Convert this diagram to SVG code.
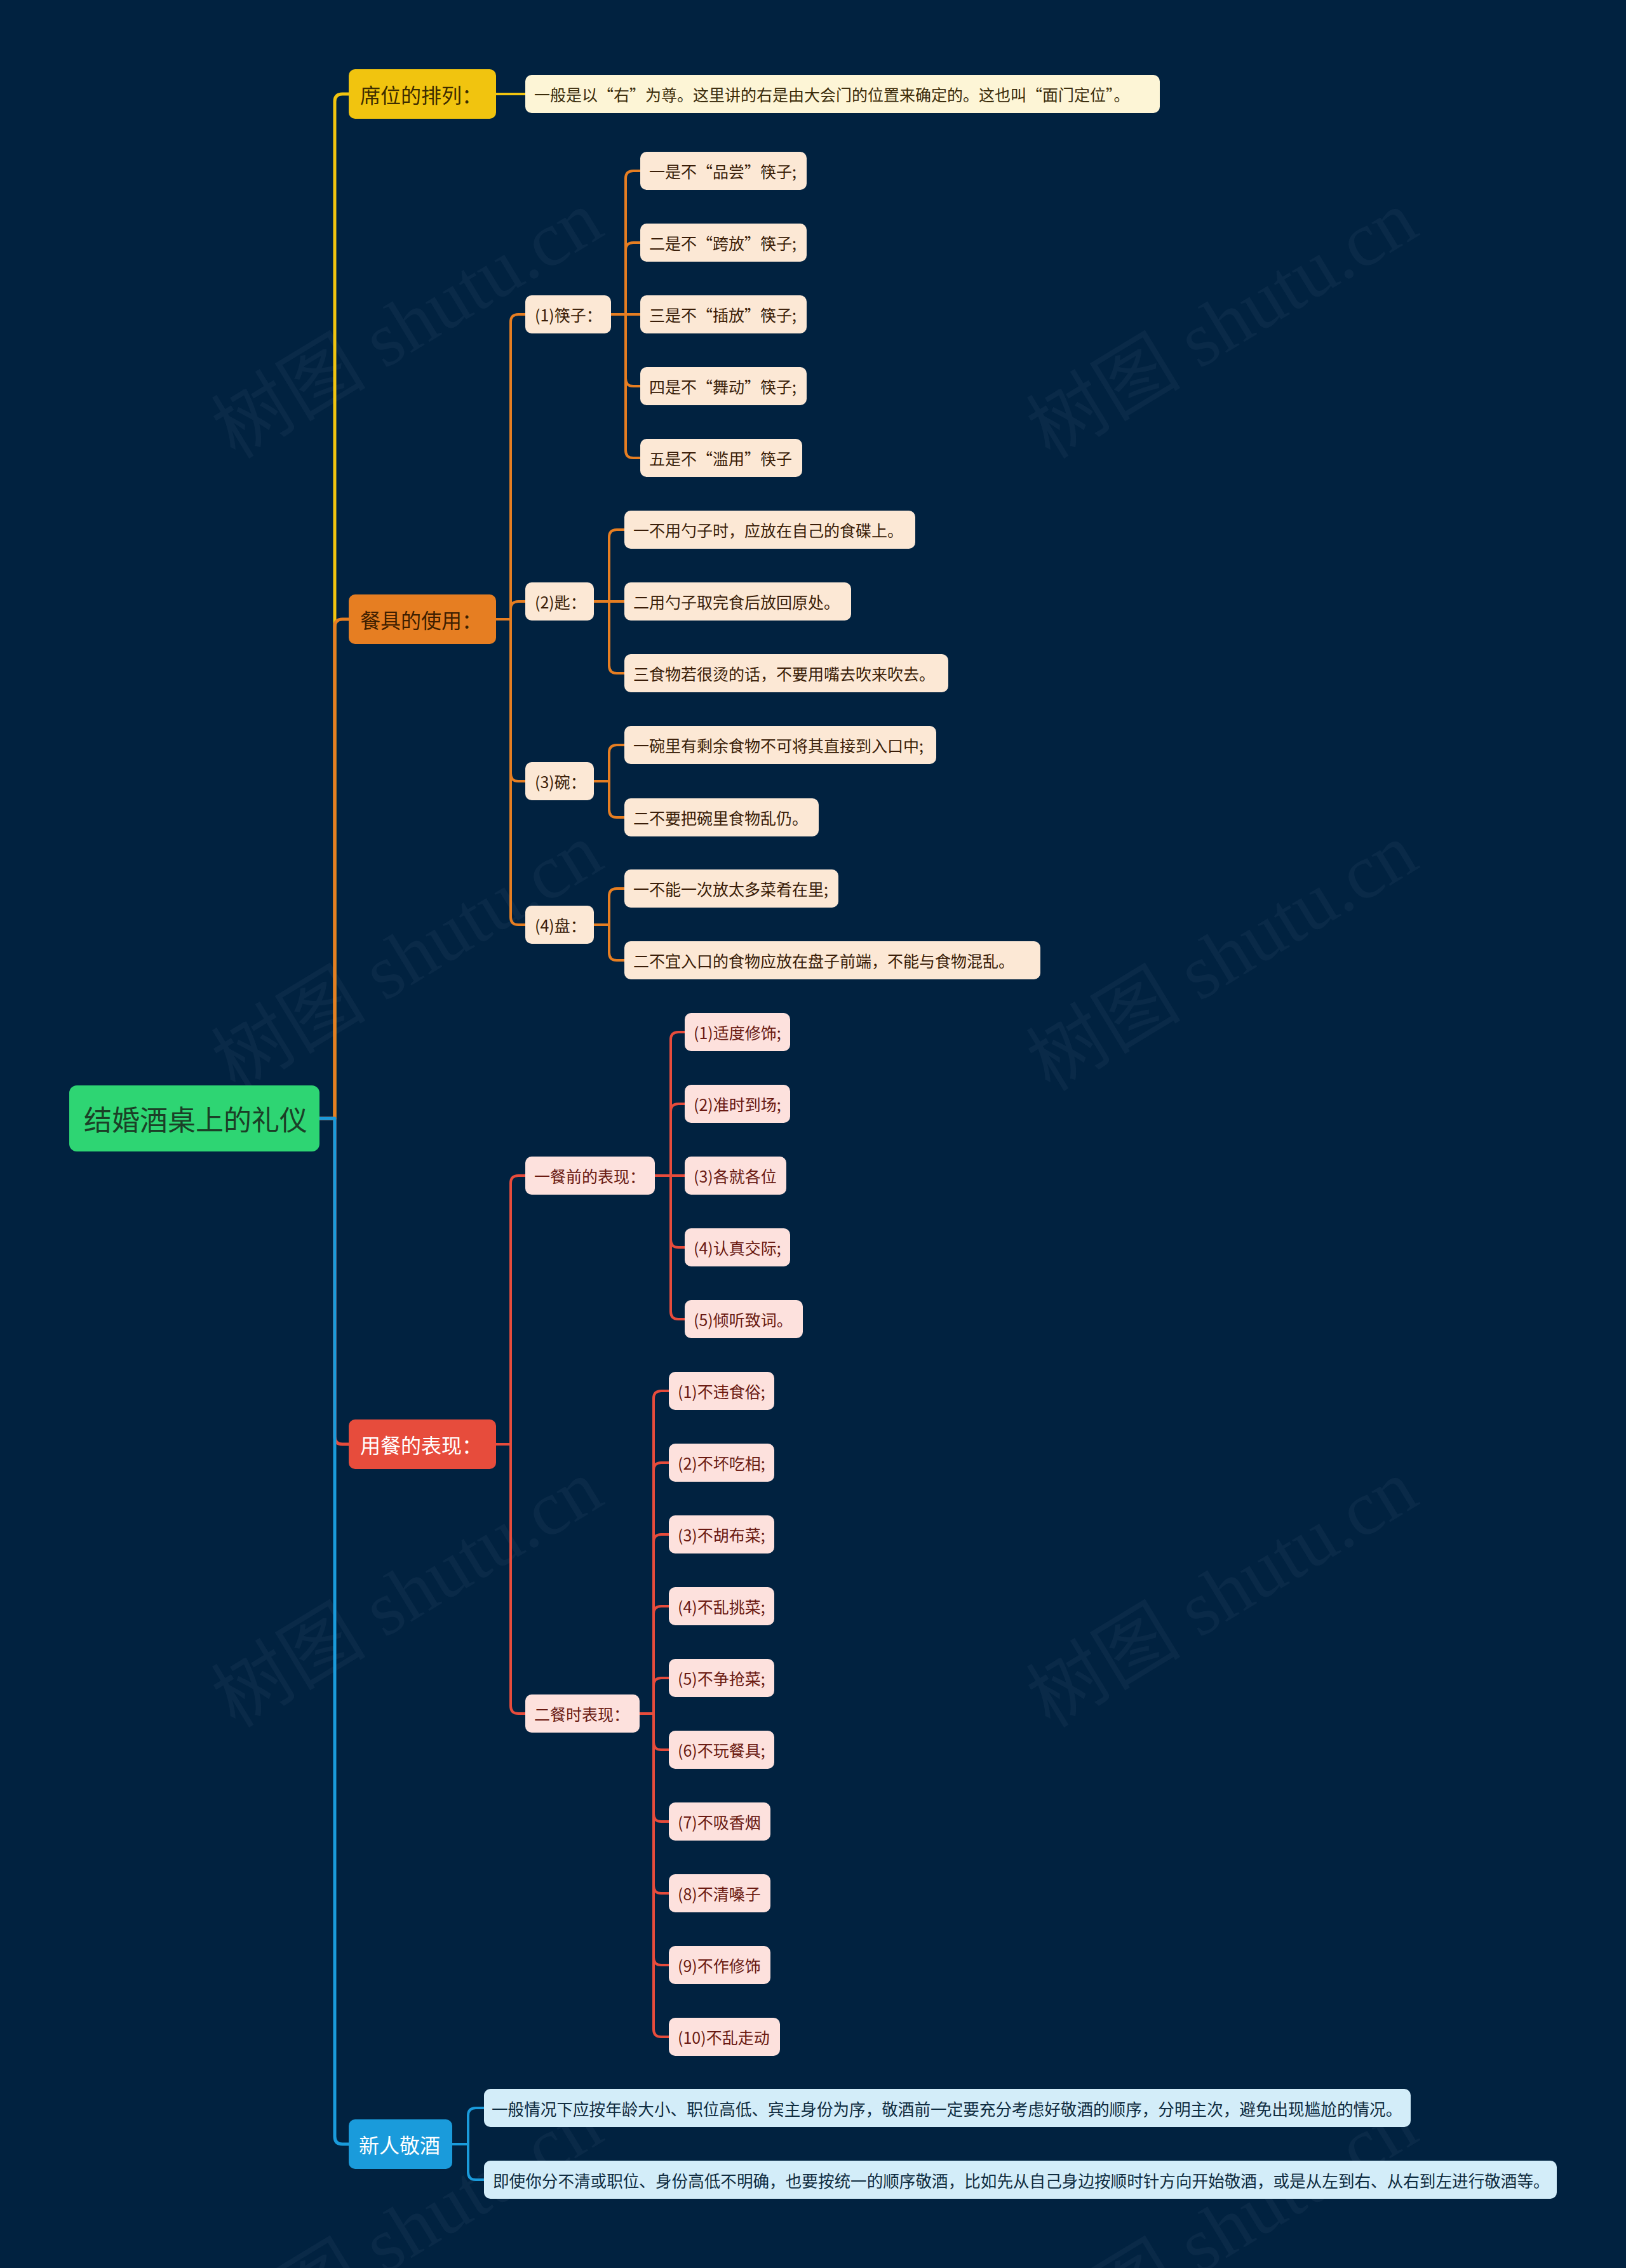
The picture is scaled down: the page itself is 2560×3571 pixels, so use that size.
<svg xmlns="http://www.w3.org/2000/svg" width="2560" height="3571" viewBox="0 0 2560 3571">
<style>
text{font-family:"Noto Sans CJK SC","Noto Sans",sans-serif;dominant-baseline:central;text-anchor:start}
.wm{font-family:"Liberation Serif","Noto Sans CJK SC",serif;font-size:122px;fill:#8aa0b8;fill-opacity:0.07;dominant-baseline:auto;text-anchor:middle}
.c{fill:none;stroke-linecap:round;stroke-linejoin:round}
.cy{stroke:#F1C40F;stroke-width:5}
.co{stroke:#E67E22}
.cr{stroke:#E74C3C}
.cb{stroke:#1A9BDB}
.w5{stroke-width:5}
.w4{stroke-width:4}
.root rect{fill:#2ED573}
.root text{font-size:44px;fill:#1B3F27}
.l1 rect{rx:10px}
.l1 text{font-size:32px}
.y1 rect{fill:#F1C40F}.y1 text{fill:#3D2C00}
.o1 rect{fill:#E67E22}.o1 text{fill:#3E1E00}
.r1 rect{fill:#E74C3C}.r1 text{fill:#FFFFFF}
.b1 rect{fill:#1A9BDB}.b1 text{fill:#FFFFFF}
.lf rect{rx:10px}
.lf text{font-size:25px}
.yl rect{fill:#FDF5D6}.yl text{fill:#3B2C0A}
.ol rect{fill:#FCE8D5}.ol text{fill:#3A1D08}
.rl rect{fill:#FDE1DD}.rl text{fill:#6A1A12}
.bl rect{fill:#D3EDF9}.bl text{fill:#0F2C40;font-size:25.6px}
</style>
<rect width="2560" height="3571" fill="#012240"/>
<g id="watermarks">
<text class="wm" x="642" y="552" transform="rotate(-31.3 642 512)">树图 shutu.cn</text>
<text class="wm" x="1925" y="552" transform="rotate(-31.3 1925 512)">树图 shutu.cn</text>
<text class="wm" x="642" y="1548" transform="rotate(-31.3 642 1508)">树图 shutu.cn</text>
<text class="wm" x="1925" y="1548" transform="rotate(-31.3 1925 1508)">树图 shutu.cn</text>
<text class="wm" x="642" y="2550" transform="rotate(-31.3 642 2510)">树图 shutu.cn</text>
<text class="wm" x="1925" y="2550" transform="rotate(-31.3 1925 2510)">树图 shutu.cn</text>
<text class="wm" x="642" y="3552" transform="rotate(-31.3 642 3512)">树图 shutu.cn</text>
<text class="wm" x="1925" y="3552" transform="rotate(-31.3 1925 3512)">树图 shutu.cn</text>
</g>
<g id="connectors">
<path class="c cy" d="M503 1761 H527 V160 Q527 148 539 148 H549"/>
<path class="c cy w4" d="M781 148 H827"/>
<path class="c co w5" d="M503 1761 H527 V987 Q527 975 539 975 H549"/>
<g class="c co w4">
<path d="M781 975 H804 V507 Q804 495 816 495 H827"/>
<path d="M781 975 H804 V959 Q804 947 816 947 H827"/>
<path d="M781 975 H804 V1218 Q804 1230 816 1230 H827"/>
<path d="M781 975 H804 V1444 Q804 1456 816 1456 H827"/>
<path d="M962 495 H985 V281 Q985 269 997 269 H1008"/>
<path d="M962 495 H985 V394 Q985 382 997 382 H1008"/>
<path d="M962 495 H1008"/>
<path d="M962 495 H985 V596 Q985 608 997 608 H1008"/>
<path d="M962 495 H985 V709 Q985 721 997 721 H1008"/>
<path d="M935 947 H959 V846 Q959 834 971 834 H983"/>
<path d="M935 947 H983"/>
<path d="M935 947 H959 V1048 Q959 1060 971 1060 H983"/>
<path d="M935 1230 H959 V1185 Q959 1173 971 1173 H983"/>
<path d="M935 1230 H959 V1275 Q959 1287 971 1287 H983"/>
<path d="M935 1456 H959 V1411 Q959 1399 971 1399 H983"/>
<path d="M935 1456 H959 V1500 Q959 1512 971 1512 H983"/>
</g>
<path class="c cr w5" d="M503 1761 H527 V2262 Q527 2274 539 2274 H549"/>
<g class="c cr w4">
<path d="M781 2274 H804 V1863 Q804 1851 816 1851 H827"/>
<path d="M781 2274 H804 V2686 Q804 2698 816 2698 H827"/>
<path d="M1031 1851 H1056 V1637 Q1056 1625 1068 1625 H1078"/>
<path d="M1031 1851 H1056 V1750 Q1056 1738 1068 1738 H1078"/>
<path d="M1031 1851 H1078"/>
<path d="M1031 1851 H1056 V1952 Q1056 1964 1068 1964 H1078"/>
<path d="M1031 1851 H1056 V2065 Q1056 2077 1068 2077 H1078"/>
<path d="M1007 2698 H1029 V2202 Q1029 2190 1041 2190 H1053"/>
<path d="M1007 2698 H1029 V2315 Q1029 2303 1041 2303 H1053"/>
<path d="M1007 2698 H1029 V2428 Q1029 2416 1041 2416 H1053"/>
<path d="M1007 2698 H1029 V2541 Q1029 2529 1041 2529 H1053"/>
<path d="M1007 2698 H1029 V2654 Q1029 2642 1041 2642 H1053"/>
<path d="M1007 2698 H1029 V2743 Q1029 2755 1041 2755 H1053"/>
<path d="M1007 2698 H1029 V2856 Q1029 2868 1041 2868 H1053"/>
<path d="M1007 2698 H1029 V2969 Q1029 2981 1041 2981 H1053"/>
<path d="M1007 2698 H1029 V3082 Q1029 3094 1041 3094 H1053"/>
<path d="M1007 2698 H1029 V3195 Q1029 3207 1041 3207 H1053"/>
</g>
<path class="c cb w5" d="M503 1761 H527 V3364 Q527 3376 539 3376 H549"/>
<g class="c cb w4">
<path d="M712 3376 H737 V3331 Q737 3319 749 3319 H762"/>
<path d="M712 3376 H737 V3420 Q737 3432 749 3432 H762"/>
</g>
</g>
<g id="root" class="root"><rect x="109" y="1709" width="394" height="104" rx="12"/><text x="132" y="1761">结婚酒桌上的礼仪</text></g>
<g id="n-xiwei" class="l1 y1"><rect x="549" y="109" width="232" height="78"/><text x="567" y="148">席位的排列：</text></g>
<g id="n-xiwei-1" class="lf yl"><rect x="827" y="118" width="999" height="60"/><text x="841" y="148">一般是以“右”为尊。这里讲的右是由大会门的位置来确定的。这也叫“面门定位”。</text></g>
<g id="n-canju" class="l1 o1"><rect x="549" y="936" width="232" height="78"/><text x="567" y="975">餐具的使用：</text></g>
<g id="n-kuaizi" class="lf ol"><rect x="827" y="465" width="135" height="60"/><text x="842" y="495">(1)筷子：</text></g>
<g id="n-kz1" class="lf ol"><rect x="1008" y="239" width="262" height="60"/><text x="1022" y="269">一是不“品尝”筷子;</text></g>
<g id="n-kz2" class="lf ol"><rect x="1008" y="352" width="262" height="60"/><text x="1022" y="382">二是不“跨放”筷子;</text></g>
<g id="n-kz3" class="lf ol"><rect x="1008" y="465" width="262" height="60"/><text x="1022" y="495">三是不“插放”筷子;</text></g>
<g id="n-kz4" class="lf ol"><rect x="1008" y="578" width="262" height="60"/><text x="1022" y="608">四是不“舞动”筷子;</text></g>
<g id="n-kz5" class="lf ol"><rect x="1008" y="691" width="255" height="60"/><text x="1022" y="721">五是不“滥用”筷子</text></g>
<g id="n-chi" class="lf ol"><rect x="827" y="917" width="108" height="60"/><text x="842" y="947">(2)匙：</text></g>
<g id="n-chi1" class="lf ol"><rect x="983" y="804" width="458" height="60"/><text x="997" y="834">一不用勺子时，应放在自己的食碟上。</text></g>
<g id="n-chi2" class="lf ol"><rect x="983" y="917" width="357" height="60"/><text x="997" y="947">二用勺子取完食后放回原处。</text></g>
<g id="n-chi3" class="lf ol"><rect x="983" y="1030" width="510" height="60"/><text x="997" y="1060">三食物若很烫的话，不要用嘴去吹来吹去。</text></g>
<g id="n-wan" class="lf ol"><rect x="827" y="1200" width="108" height="60"/><text x="842" y="1230">(3)碗：</text></g>
<g id="n-wan1" class="lf ol"><rect x="983" y="1143" width="491" height="60"/><text x="997" y="1173">一碗里有剩余食物不可将其直接到入口中;</text></g>
<g id="n-wan2" class="lf ol"><rect x="983" y="1257" width="306" height="60"/><text x="997" y="1287">二不要把碗里食物乱仍。</text></g>
<g id="n-pan" class="lf ol"><rect x="827" y="1426" width="108" height="60"/><text x="842" y="1456">(4)盘：</text></g>
<g id="n-pan1" class="lf ol"><rect x="983" y="1369" width="337" height="60"/><text x="997" y="1399">一不能一次放太多菜肴在里;</text></g>
<g id="n-pan2" class="lf ol"><rect x="983" y="1482" width="655" height="60"/><text x="997" y="1512">二不宜入口的食物应放在盘子前端，不能与食物混乱。</text></g>
<g id="n-yongcan" class="l1 r1"><rect x="549" y="2235" width="232" height="78"/><text x="567" y="2274">用餐的表现：</text></g>
<g id="n-canqian" class="lf rl"><rect x="827" y="1821" width="204" height="60"/><text x="841" y="1851">一餐前的表现：</text></g>
<g id="n-cq1" class="lf rl"><rect x="1078" y="1595" width="166" height="60"/><text x="1092" y="1625">(1)适度修饰;</text></g>
<g id="n-cq2" class="lf rl"><rect x="1078" y="1708" width="166" height="60"/><text x="1092" y="1738">(2)准时到场;</text></g>
<g id="n-cq3" class="lf rl"><rect x="1078" y="1821" width="160" height="60"/><text x="1092" y="1851">(3)各就各位</text></g>
<g id="n-cq4" class="lf rl"><rect x="1078" y="1934" width="166" height="60"/><text x="1092" y="1964">(4)认真交际;</text></g>
<g id="n-cq5" class="lf rl"><rect x="1078" y="2047" width="186" height="60"/><text x="1092" y="2077">(5)倾听致词。</text></g>
<g id="n-canshi" class="lf rl"><rect x="827" y="2668" width="180" height="60"/><text x="841" y="2698">二餐时表现：</text></g>
<g id="n-cs1" class="lf rl"><rect x="1053" y="2160" width="166" height="60"/><text x="1067" y="2190">(1)不违食俗;</text></g>
<g id="n-cs2" class="lf rl"><rect x="1053" y="2273" width="166" height="60"/><text x="1067" y="2303">(2)不坏吃相;</text></g>
<g id="n-cs3" class="lf rl"><rect x="1053" y="2386" width="166" height="60"/><text x="1067" y="2416">(3)不胡布菜;</text></g>
<g id="n-cs4" class="lf rl"><rect x="1053" y="2499" width="166" height="60"/><text x="1067" y="2529">(4)不乱挑菜;</text></g>
<g id="n-cs5" class="lf rl"><rect x="1053" y="2612" width="166" height="60"/><text x="1067" y="2642">(5)不争抢菜;</text></g>
<g id="n-cs6" class="lf rl"><rect x="1053" y="2725" width="166" height="60"/><text x="1067" y="2755">(6)不玩餐具;</text></g>
<g id="n-cs7" class="lf rl"><rect x="1053" y="2838" width="160" height="60"/><text x="1067" y="2868">(7)不吸香烟</text></g>
<g id="n-cs8" class="lf rl"><rect x="1053" y="2951" width="160" height="60"/><text x="1067" y="2981">(8)不清嗓子</text></g>
<g id="n-cs9" class="lf rl"><rect x="1053" y="3064" width="160" height="60"/><text x="1067" y="3094">(9)不作修饰</text></g>
<g id="n-cs10" class="lf rl"><rect x="1053" y="3177" width="175" height="60"/><text x="1067" y="3207">(10)不乱走动</text></g>
<g id="n-jingjiu" class="l1 b1"><rect x="549" y="3337" width="163" height="78"/><text x="565" y="3376">新人敬酒</text></g>
<g id="n-jj1" class="lf bl"><rect x="762" y="3289" width="1459" height="60"/><text x="774" y="3319">一般情况下应按年龄大小、职位高低、宾主身份为序，敬酒前一定要充分考虑好敬酒的顺序，分明主次，避免出现尴尬的情况。</text></g>
<g id="n-jj2" class="lf bl"><rect x="762" y="3402" width="1689" height="60"/><text x="776" y="3432">即使你分不清或职位、身份高低不明确，也要按统一的顺序敬酒，比如先从自己身边按顺时针方向开始敬酒，或是从左到右、从右到左进行敬酒等。</text></g>
</svg>
